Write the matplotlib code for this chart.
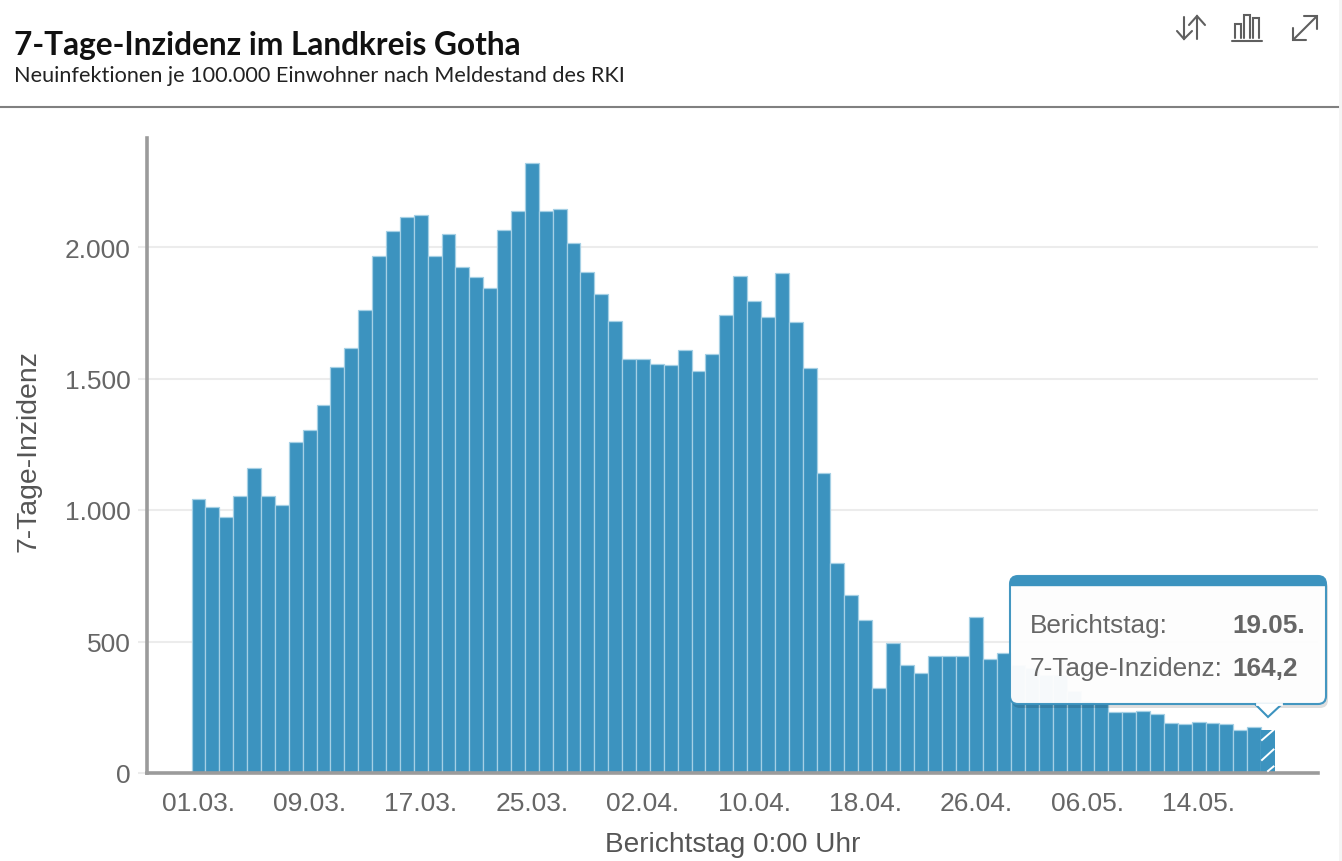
import matplotlib
matplotlib.use("Agg")
import matplotlib.pyplot as plt
from matplotlib.patches import FancyBboxPatch, Polygon, Rectangle
import numpy as np

W, H = 1342, 862

# 7-Tage-Inzidenz
values = [1040, 1010, 975, 1055, 1160, 1055, 1020, 1260, 1305, 1400,
          1545, 1615, 1760, 1965, 2060, 2115, 2120, 1965, 2050, 1925,
          1885, 1845, 2065, 2135, 2320, 2135, 2145, 2015, 1905, 1820,
          1720, 1575, 1575, 1555, 1550, 1610, 1530, 1595, 1740, 1890,
          1795, 1735, 1900, 1715, 1540, 1140, 800, 675, 580, 325,
          495, 410, 380, 445, 445, 445, 595, 435, 455, 410,
          400, 372, 372, 313, 274, 265, 233, 233, 235, 224,
          189, 186, 193, 189, 185, 163, 174, 164.2]
tick_pos = [0, 8, 16, 24, 32, 40, 48, 56, 64, 72]
tick_labels = ["01.03.", "09.03.", "17.03.", "25.03.", "02.04.",
               "10.04.", "18.04.", "26.04.", "06.05.", "14.05."]
y_ticks = [0, 500, 1000, 1500, 2000]
y_labels = ["0", "500", "1.000", "1.500", "2.000"]

BAR = "#3c93bf"
GREY = "#666666"
AXIS = "#9b9b9b"

plt.rcParams["font.family"] = ["Liberation Sans", "DejaVu Sans"]

fig = plt.figure(figsize=(W / 100, H / 100), dpi=100, facecolor="white")

# main plot, placed in pixels
x0, x1, y_top, y_bot = 147, 1318, 139, 774
ax = fig.add_axes([x0 / W, 1 - y_bot / H, (x1 - x0) / W, (y_bot - y_top) / H])
ax.set_xlim((x0 - 198.5) / 13.89, (x1 - 198.5) / 13.89)
ax.set_ylim(0, (y_bot - y_top) / 0.263)

x = np.arange(len(values))
bars = ax.bar(x, values, width=1.0, color=BAR, edgecolor="#a5d0e5", linewidth=0.9, zorder=2)
bars[-1].set_linewidth(0)

ax.set_yticks(y_ticks)
ax.set_yticklabels(y_labels)
ax.set_xticks(tick_pos)
ax.set_xticklabels(tick_labels)
ax.tick_params(axis="y", length=6.5, width=1.5, color="#ececec", pad=5.5, labelsize=19, labelcolor=GREY)
ax.tick_params(axis="x", length=0, pad=12.8, labelsize=19, labelcolor=GREY)
ax.grid(axis="y", color="#ececec", linewidth=1.5, zorder=0)
ax.set_axisbelow(True)
for s in ["top", "right"]:
    ax.spines[s].set_visible(False)
for s in ["left", "bottom"]:
    ax.spines[s].set_color(AXIS)
    ax.spines[s].set_linewidth(2.6)
    ax.spines[s].set_zorder(4)
ax.patch.set_alpha(0)

ax.set_xlabel("Berichtstag 0:00 Uhr", fontsize=20.2, color="#555555")
ax.xaxis.set_label_coords((733 - x0) / (x1 - x0), -(845 - y_bot) / (y_bot - y_top), transform=ax.transAxes)
ax.xaxis.label.set_va("center")
ax.set_ylabel("7-Tage-Inzidenz", fontsize=20.4, color="#555555")
ax.yaxis.set_label_coords(-(147 - 28) / (x1 - x0), (y_bot - 451) / (y_bot - y_top), transform=ax.transAxes)
ax.yaxis.label.set_va("center")

# overlay in pixel coordinates for header, icons and tooltip
ov = fig.add_axes([0, 0, 1, 1], zorder=10)
ov.set_xlim(0, W)
ov.set_ylim(H, 0)
ov.axis("off")
ov.patch.set_alpha(0)

ov.text(14, 45, "7-Tage-Inzidenz im Landkreis Gotha", family="Lato", fontweight="bold",
        fontsize=22.8, color="#111111", va="center")
ov.text(14, 75.5, "Neuinfektionen je 100.000 Einwohner nach Meldestand des RKI", family="Lato",
        fontsize=15.6, color="#222222", va="center")
ov.plot([0, 1338], [108, 108], color="#808080", lw=1.5)
ov.add_patch(Rectangle((1339, 0), 3, H, color="#f4f4f4", lw=0))

# white stripes on the last, still provisional bar
ov.plot([1262, 1273.5], [741, 731], color="white", lw=1.4)
ov.plot([1262, 1273.5], [761, 750.5], color="white", lw=1.4)
ov.plot([1268, 1273.5], [772, 767.5], color="white", lw=1.4)

# icons
ic = dict(color="#5f5f5f", lw=1.5, solid_capstyle="round", solid_joinstyle="miter")
ov.plot([1184, 1184], [18, 40], **ic)
ov.plot([1177, 1184, 1192], [32, 40, 32], **ic)
ov.plot([1197, 1197], [17, 40], **ic)
ov.plot([1189, 1197, 1205], [26, 17, 26], **ic)
ov.plot([1232, 1262], [41.5, 41.5], **ic)
ov.plot([1234.5, 1234.5, 1240.5, 1240.5], [39, 25, 25, 39], **ic)
ov.plot([1244, 1244, 1250, 1250], [39, 16, 16, 39], **ic)
ov.plot([1253, 1253, 1259, 1259], [39, 19, 19, 39], **ic)
ov.plot([1293, 1317], [41, 17], **ic)
ov.plot([1304, 1317, 1317], [17, 17, 30], **ic)
ov.plot([1293, 1293, 1306], [29, 41, 41], **ic)

# tooltip
tx0, tx1, ty0, ty1 = 1010, 1326, 577, 705
shadow = FancyBboxPatch((tx0 + 2, ty0 + 4), tx1 - tx0, ty1 - ty0, boxstyle="round,pad=0,rounding_size=8",
                        fc="black", ec="none", alpha=0.13, zorder=1)
ov.add_patch(shadow)
body = FancyBboxPatch((tx0, ty0), tx1 - tx0, ty1 - ty0, boxstyle="round,pad=0,rounding_size=8",
                      fc="white", ec=BAR, lw=1.5, alpha=0.96, zorder=2)
ov.add_patch(body)
band = Rectangle((tx0, ty0), tx1 - tx0, 9, fc=BAR, ec=BAR, lw=1, zorder=3)
ov.add_patch(band)
band.set_clip_path(body)
ov.add_patch(Polygon([[1255, 705], [1268, 718], [1282, 705]], closed=False, fc="white", ec=BAR, lw=1.5, zorder=3))
ov.plot([1256.5, 1280.5], [705, 705], color="white", lw=2, zorder=4)
ov.text(1030, 626, "Berichtstag:", fontsize=18.8, color=GREY, va="center", zorder=5)
ov.text(1030, 669, "7-Tage-Inzidenz:", fontsize=18.8, color=GREY, va="center", zorder=5)
ov.text(1232, 626, "19.05.", fontsize=18.8, color=GREY, fontweight="bold", va="center", zorder=5)
ov.text(1232, 669, "164,2", fontsize=18.8, color=GREY, fontweight="bold", va="center", zorder=5)

fig.savefig("out.png", dpi=100)
